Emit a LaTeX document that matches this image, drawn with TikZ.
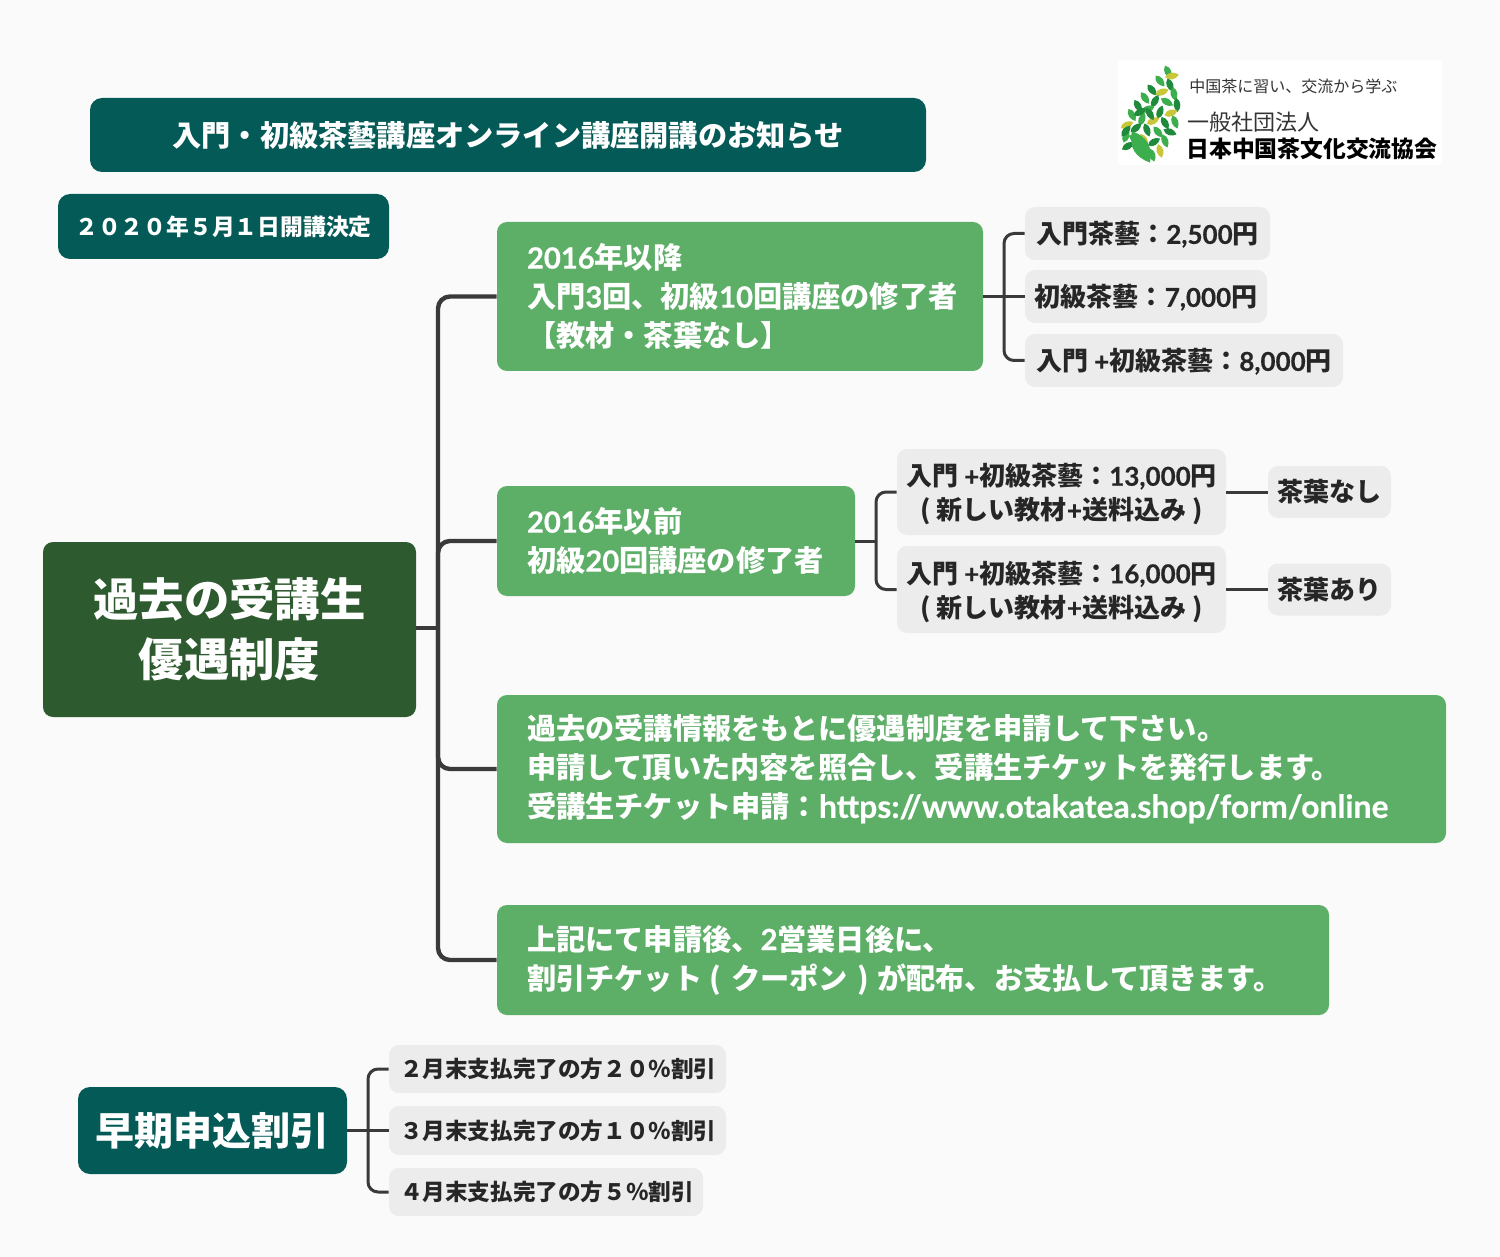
\documentclass[tikz,border=0pt]{standalone}
\usepackage{fontspec}
\setmainfont{Noto Sans CJK JP}
\newfontfamily\latinfont{Lato}[FakeBold=0.5]
\newcommand{\lat}[1]{{\latinfont #1}}
\newcommand{\dn}{\rule{0pt}{13.4pt}}
\newcommand{\dnone}{\rule{0pt}{12.2pt}}
\definecolor{TealC}{HTML}{045A57}
\definecolor{RootC}{HTML}{2D5A2E}
\definecolor{GreenC}{HTML}{5DAE67}
\definecolor{GrayC}{HTML}{ECECEC}
\definecolor{LineC}{HTML}{3A3A3A}
\definecolor{PageC}{HTML}{FAFAFA}
\definecolor{LeafA}{HTML}{3DAE4E}
\definecolor{LeafB}{HTML}{1F8A3C}
\definecolor{LeafC}{HTML}{C9C63A}
\begin{document}
\begin{tikzpicture}[x=0.5pt,y=-0.5pt]
	\tikzstyle{Box} = [rectangle, rounded corners=5pt, inner sep=0pt, font=\bfseries, align=center]
	\tikzstyle{Teal} = [Box, fill=TealC, text=white, rounded corners=6pt]
	\tikzstyle{Root} = [Box, fill=RootC, text=white, font=\bfseries\fontsize{22.7}{30}\selectfont]
	\tikzstyle{Green} = [Box, fill=GreenC, text=white, align=left, inner xsep=15pt, font=\bfseries\fontsize{14.6}{19.5}\selectfont]
	\tikzstyle{Gray} = [Box, fill=GrayC, text=black!85, font=\bfseries\fontsize{13}{17}\selectfont]
	\tikzstyle{Small} = [Box, fill=GrayC, text=black!85, align=left, inner xsep=5.5pt, font=\bfseries\fontsize{11.3}{14}\selectfont]
	\tikzstyle{Link} = [line width=1.5pt, draw=LineC, rounded corners=5pt]
	\tikzstyle{Trunk} = [line width=2.2pt, draw=LineC, rounded corners=6pt]
	\tikzstyle{Logotext} = [inner sep=0pt, anchor=west, text=black!80]

	\fill [PageC] (0,0) rectangle (1500,1257);
	\useasboundingbox (0,0) rectangle (1500,1257);

	% header
	\node (title) [Teal, minimum width=418pt, minimum height=37pt, font=\bfseries\fontsize{14.6}{18}\selectfont] at (508,135) {入門・初級茶藝講座オンライン講座開講のお知らせ};
	\node (date) [Teal, minimum width=165.5pt, minimum height=32.5pt, font=\bfseries\fontsize{11.4}{14}\selectfont] at (223.5,226.5) {２０２０年５月１日開講決定};

	% logo
	\fill [white, rounded corners=2pt] (1118,60) rectangle (1442,165);
	\foreach \x/\y/\r/\c in {1168/72/-65/LeafA, 1172/76/10/LeafC, 1160/81/-50/LeafA, 1170/85/-70/LeafB, 1152/90/-50/LeafB, 1162/92/20/LeafC,
		1174/94/-80/LeafA, 1145/98/-55/LeafA, 1155/101/60/LeafB, 1167/102/-30/LeafA, 1177/105/-85/LeafB, 1138/106/-60/LeafB,
		1148/109/20/LeafA, 1160/112/70/LeafB, 1171/113/20/LeafC, 1132/115/-60/LeafA, 1142/119/70/LeafA, 1153/121/25/LeafC,
		1165/123/-60/LeafB, 1175/122/-70/LeafA, 1127/125/25/LeafC, 1136/128/40/LeafB, 1147/130/-70/LeafB, 1158/132/-50/LeafA,
		1170/132/-20/LeafB, 1126/136/70/LeafA, 1135/139/-30/LeafA, 1144/140/-60/LeafC, 1154/142/30/LeafB, 1165/141/-70/LeafA,
		1128/146/30/LeafB, 1160/151/-75/LeafC, 1152/155/-70/LeafA, 1126/131/50/LeafB, 1150/114/-60/LeafB, 1140/112/30/LeafB}
		\fill [\c, shift={(\x,\y)}, rotate=\r] (-7,0) .. controls (-3,-5) and (3,-4) .. (7,0) .. controls (3,4) and (-3,5) .. (-7,0);
	\fill [LeafA, shift={(1141,147)}, rotate=-60] (-18,0) .. controls (-6,-11) and (6,-10) .. (18,0) .. controls (6,10) and (-6,11) .. (-18,0);
	\node (slogan) [Logotext, font=\fontsize{8}{9}\selectfont] at (1189,86) {中国茶に習い、交流から学ぶ};
	\node (corp) [Logotext, font=\fontsize{11}{13}\selectfont] at (1187,122) {一般社団法人};
	\node (assoc) [Logotext, font=\bfseries\fontsize{11.4}{13}\selectfont, text=black] at (1186,149) {日本中国茶文化交流協会};

	% main tree
	\node (root) [Root, minimum width=186.5pt, minimum height=87.5pt] at (229.5,629.5) {過去の受講生\\優遇制度};
	\node (done) [Green, minimum width=243pt, minimum height=74.5pt, text width=213pt] at (740,296.5) {\lat{2016}年以降\\入門\lat{3}回、初級\lat{10}回講座の修了者\\【教材・茶葉なし】};
	\node (old) [Green, minimum width=179pt, minimum height=55pt, text width=149pt] at (676,541) {\lat{2016}年以前\\初級\lat{20}回講座の修了者};
	\node (apply) [Green, minimum width=474.5pt, minimum height=74pt, text width=444.5pt] at (971.5,769) {過去の受講情報をもとに優遇制度を申請して下さい。\\申請して頂いた内容を照合し、受講生チケットを発行します。\\受講生チケット申請：{\fontsize{15.95}{19.5}\selectfont\lat{https://www.otakatea.shop/form/online}}};
	\node (after) [Green, minimum width=416pt, minimum height=55pt, text width=386pt] at (913,960) {上記にて申請後、\lat{2}営業日後に、\\割引チケット\kern-1pt\ ( クーポン )\kern-1pt\ が配布、お支払して頂きます。};

	\node (doneA) [Gray, minimum width=122.5pt, minimum height=26.5pt] at (1147.5,233.5) {\dnone 入門茶藝：\lat{2,500}円};
	\node (doneB) [Gray, minimum width=121pt, minimum height=26.5pt] at (1146,296.5) {\dnone 初級茶藝：\lat{7,000}円};
	\node (doneC) [Gray, minimum width=159pt, minimum height=26.5pt] at (1184,360.5) {\dnone 入門 \lat{+}初級茶藝：\lat{8,000}円};
	\node (oldA) [Gray, minimum width=164.5pt, minimum height=43pt] at (1061.5,492) {\dn 入門 \lat{+}初級茶藝：\lat{13,000}円\\( 新しい教材\lat{+}送料込み )};
	\node (oldB) [Gray, minimum width=164.5pt, minimum height=43.5pt] at (1061.5,589.5) {\dn 入門 \lat{+}初級茶藝：\lat{16,000}円\\( 新しい教材\lat{+}送料込み )};
	\node (none) [Gray, minimum width=61.5pt, minimum height=26pt] at (1329.5,492) {茶葉なし};
	\node (with) [Gray, minimum width=61.5pt, minimum height=26pt] at (1329.5,589.5) {茶葉あり};

	\coordinate (rootJ) at (438,628);
	\coordinate (doneJ) at (1004,296.5);
	\coordinate (oldJ) at (876,541);
	\draw [Trunk] (root.east |- rootJ) -- (rootJ);
	\draw [Trunk] (rootJ) |- (done.west);
	\draw [Trunk] (rootJ) |- (old.west);
	\draw [Trunk] (rootJ) |- (apply.west);
	\draw [Trunk] (rootJ) |- (after.west);
	\draw [Link] (done.east) -- (doneB.west);
	\draw [Link] (doneJ) |- (doneA.west);
	\draw [Link] (doneJ) |- (doneC.west);
	\draw [Link] (old.east) -- (oldJ);
	\draw [Link] (oldJ) |- (oldA.west);
	\draw [Link] (oldJ) |- (oldB.west);
	\draw [Link] (oldA.east) -- (none.west);
	\draw [Link] (oldB.east) -- (with.west);

	% early payment
	\node (early) [Teal, minimum width=134.5pt, minimum height=43.5pt, font=\bfseries\fontsize{19.5}{24}\selectfont] at (212.5,1130.5) {早期申込割引};
	\node (febr) [Small, minimum width=168.5pt, minimum height=24pt, text width=157.5pt] at (557.5,1069) {２月末支払完了の方２０％割引};
	\node (marc) [Small, minimum width=168.5pt, minimum height=24.5pt, text width=157.5pt] at (557.5,1130.5) {３月末支払完了の方１０％割引};
	\node (apri) [Small, minimum width=157pt, minimum height=24pt, text width=146pt] at (546,1192) {４月末支払完了の方５％割引};
	\coordinate (earlyJ) at (368,1130.5);
	\draw [Link] (early.east) -- (marc.west);
	\draw [Link] (earlyJ) |- (febr.west);
	\draw [Link] (earlyJ) |- (apri.west);
\end{tikzpicture}
\end{document}
